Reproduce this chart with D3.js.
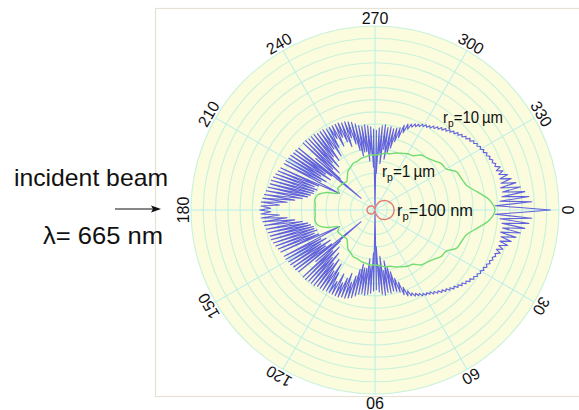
<!DOCTYPE html>
<html><head><meta charset="utf-8">
<script src="https://cdn.jsdelivr.net/npm/d3@7"></script>
<style>
body{margin:0;background:#fff;}
svg{display:block;font-family:"Liberation Sans",Arial,Helvetica,sans-serif;}
</style>
</head><body>
<svg id="chart" width="579" height="410"></svg>
<script>
// ---------- data ----------
// scattering angle ticks (degrees, clockwise from forward direction)
const angleTicks = [0, 30, 60, 90, 120, 150, 180, 210, 240, 270, 300, 330];
const angleLabels = ["0", "30", "60", "90", "120", "150", "180", "210", "240", "270", "300", "330"];
// radial grid rings (relative log-intensity units)
const ringTicks = [1, 2, 3, 4, 5, 6, 7, 8, 9, 10, 11, 12, 13, 14, 15];
const radialMax = 15;

// rp = 10 µm : 0..180 deg, 1 deg step (pattern symmetric about the beam axis)
const blue10um = [
  14.3, 11.8, 9.8, 12.8, 10.2, 12.6, 10.4, 12.3, 10.5, 12.0,
  10.4, 11.7, 10.5, 11.4, 10.5, 11.2, 10.5, 10.9, 10.4, 10.8,
  10.4, 10.55, 10.3, 10.45, 10.2, 10.35, 10.1, 10.25, 10.0, 10.15,
  9.9, 10.05, 9.8, 9.95, 9.7, 9.85, 9.55, 9.7, 9.4, 9.55,
  9.25, 9.4, 9.1, 9.25, 8.95, 9.1, 8.8, 8.95, 8.65, 8.8,
  8.5, 8.65, 8.35, 8.5, 8.2, 8.35, 8.05, 8.2, 7.95, 8.1,
  7.85, 8.0, 7.7, 7.85, 7.55, 7.75, 7.4, 7.6, 7.1, 7.5,
  6.7, 7.3, 6.2, 7.0, 5.8, 6.9, 5.2, 6.8, 4.8, 6.9,
  4.2, 6.8, 5.0, 7.0, 3.8, 6.9, 4.5, 6.7, 3.0, 6.5,
  0.3, 6.6, 3.5, 6.8, 4.6, 6.9, 4.0, 7.0, 4.8, 6.9,
  4.8, 7.0, 4.5, 7.2, 5.0, 7.4, 5.6, 7.5, 6.2, 7.6,
  5.5, 7.6, 6.0, 7.7, 6.5, 7.7, 5.8, 7.7, 6.6, 7.7,
  5.9, 7.7, 5.2, 7.8, 6.0, 7.8, 5.0, 7.8, 5.5, 7.9,
  4.6, 7.9, 5.2, 7.9, 4.2, 8.0, 4.8, 8.0, 3.8, 6.4,
  1.5, 8.0, 4.5, 8.1, 5.0, 8.1, 4.4, 8.2, 5.2, 8.2,
  4.6, 8.3, 5.0, 8.3, 4.6, 3.2, 8.4, 5.0, 8.5, 5.3,
  8.6, 5.0, 8.7, 5.2, 8.8, 5.2, 8.8, 5.4, 8.9, 5.6,
  9.0, 6.0, 9.1, 6.6, 9.2, 7.2, 9.3, 7.8, 9.3, 8.5,
  9.4
];
const blueStep = 1;

// rp = 1 µm : 0..180 deg, 5 deg step
const green1um = [
  9.78, 9.37, 8.48, 7.74, 7.50, 7.35, 6.70, 6.60, 6.25, 6.00,
  5.85, 5.40, 5.30, 5.10, 4.95, 4.75, 4.70, 4.55, 4.48, 4.50,
  4.40, 4.35, 4.22, 4.20, 4.00, 3.85, 3.50, 3.28, 3.38, 3.45,
  3.50, 3.26, 4.16, 4.81, 4.97, 4.89, 4.89
];
const greenStep = 5;

// rp = 100 nm : 0..180 deg, 10 deg step
const red100nm = [
  1.55, 1.53, 1.46, 1.34, 1.19, 1.00, 0.78, 0.53, 0.27, 0.05,
  0.11, 0.22, 0.33, 0.42, 0.50, 0.56, 0.61, 0.64, 0.65
];
const redStep = 10;

// ---------- drawing ----------
const svg = d3.select("#chart");
const cx = 375, cy = 210, R = 184;
const rScale = d3.scaleLinear().domain([0, radialMax]).range([0, R]);
const rad = a => a * Math.PI / 180;

// frame
svg.append("rect").attr("x", 155.5).attr("y", 8.5).attr("width", 440).attr("height", 388)
  .attr("fill", "none").attr("stroke", "#e6e2d4").attr("stroke-width", 1.2);

const g = svg.append("g").attr("transform", `translate(${cx},${cy})`);

// disk background
g.append("circle").attr("r", rScale(radialMax)).attr("fill", "#fbfbdd");

// rings
g.selectAll("circle.ring").data(ringTicks).join("circle")
  .attr("class", "ring").attr("r", d => rScale(d))
  .attr("fill", "none").attr("stroke", "#c8f2da").attr("stroke-width", 1.1);

// spokes
g.selectAll("line.spoke").data(angleTicks).join("line")
  .attr("class", "spoke")
  .attr("x1", 0).attr("y1", 0)
  .attr("x2", d => rScale(radialMax) * Math.cos(rad(d)))
  .attr("y2", d => rScale(radialMax) * Math.sin(rad(d)))
  .attr("stroke", "#b4eeee").attr("stroke-width", 1);

// mirror half-pattern to full 360
function full(half, step) {
  const pts = half.map((v, i) => ({a: i * step, v}));
  for (let i = half.length - 2; i >= 1; i--) pts.push({a: 360 - i * step, v: half[i]});
  return pts;
}
const radial = curve => d3.lineRadial()
  .angle(d => rad(d.a + 90))
  .radius(d => rScale(d.v))
  .curve(curve);

g.append("path").datum(full(blue10um, blueStep))
  .attr("d", radial(d3.curveLinearClosed))
  .attr("fill", "none").attr("stroke", "#4646dc").attr("stroke-opacity", 0.85)
  .attr("stroke-width", 1.1).attr("stroke-linejoin", "round");

g.append("path").datum(full(green1um, greenStep))
  .attr("d", radial(d3.curveCatmullRomClosed))
  .attr("fill", "none").attr("stroke", "#72dc72").attr("stroke-width", 1.4);

g.append("path").datum(full(red100nm, redStep))
  .attr("d", radial(d3.curveCatmullRomClosed))
  .attr("fill", "none").attr("stroke", "#e07a72").attr("stroke-width", 1.4);

// angle labels
const labR = 192;
g.selectAll("text.ang").data(angleTicks).join("text")
  .attr("class", "ang")
  .attr("transform", d => `translate(${labR * Math.cos(rad(d))},${labR * Math.sin(rad(d))}) rotate(${d + 90})`)
  .attr("text-anchor", "middle").attr("dominant-baseline", "central")
  .attr("font-size", 16).attr("fill", "#111")
  .text((d, i) => angleLabels[i]);

// curve labels
function rpLabel(x, y, rest, len) {
  const t = svg.append("text").attr("x", x).attr("y", y).attr("font-size", 16).attr("fill", "#111")
    .attr("textLength", len).attr("lengthAdjust", "spacingAndGlyphs");
  t.append("tspan").text("r");
  t.append("tspan").attr("font-size", 11).attr("dy", 4).text("p");
  t.append("tspan").attr("dy", -4).text(rest);
}
rpLabel(443, 123, "=10\u2009µm", 60);
rpLabel(382, 177, "=1\u2009µm", 53);
rpLabel(397, 216, "=100 nm", 76);

// incident beam annotation
svg.append("text").attr("x", 14).attr("y", 186).attr("font-size", 24).attr("fill", "#111")
  .attr("textLength", 154).attr("lengthAdjust", "spacingAndGlyphs").text("incident beam");
svg.append("text").attr("x", 43).attr("y", 244).attr("font-size", 24).attr("fill", "#111")
  .attr("textLength", 120).attr("lengthAdjust", "spacingAndGlyphs").text("λ= 665 nm");
svg.append("line").attr("x1", 115).attr("y1", 209).attr("x2", 153).attr("y2", 209)
  .attr("stroke", "#111").attr("stroke-width", 1.2);
svg.append("path").attr("d", "M161,209 L151,205.5 L153,209 L151,212.5 Z").attr("fill", "#111");
</script>
</body></html>
